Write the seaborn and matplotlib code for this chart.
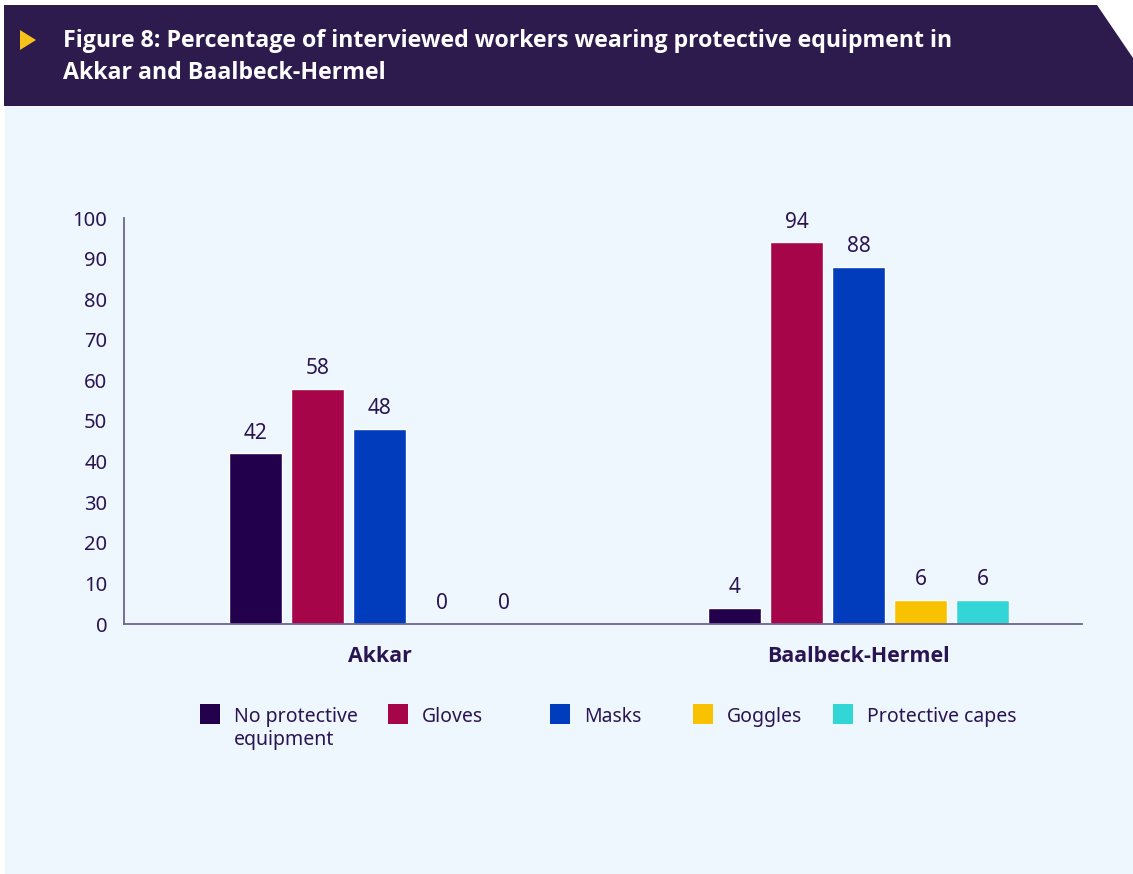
import matplotlib
matplotlib.use("Agg")
import matplotlib.pyplot as plt
from matplotlib.patches import Polygon, Rectangle
import pandas as pd
import seaborn as sns

# Data
regions = ["Akkar", "Baalbeck-Hermel"]
equipment = ["No protective\nequipment", "Gloves", "Masks", "Goggles", "Protective capes"]
akkar = [42, 58, 48, 0, 0]
baalbeck_hermel = [4, 94, 88, 6, 6]
colors = ["#23004c", "#a60549", "#003cbb", "#f9c200", "#33d6d6"]
yticks = [0, 10, 20, 30, 40, 50, 60, 70, 80, 90, 100]
title = ("Figure 8: Percentage of interviewed workers wearing protective equipment in\n"
         "Akkar and Baalbeck-Hermel")

df = pd.DataFrame({
    "region": [regions[0]] * len(equipment) + [regions[1]] * len(equipment),
    "equipment": equipment * 2,
    "value": akkar + baalbeck_hermel,
})

sns.set_style("white")
plt.rcParams["font.family"] = ["Noto Sans", "DejaVu Sans"]
BOLD = ["Open Sans", "DejaVu Sans"]

TEXT = "#2a1452"
W, H = 1133, 874
fig = plt.figure(figsize=(W / 100, H / 100), dpi=100)
fig.patch.set_facecolor("white")


def fx(px):
    return px / W


def fy(py):
    return 1 - py / H


# Light panel background
fig.patches.append(Rectangle((fx(5), 0), fx(W - 5), fy(106), transform=fig.transFigure,
                             facecolor="#eef7fd", edgecolor="none", zorder=-5))
# Header band with slanted corner
band = [(4, 5), (1097, 5), (1133, 58), (1133, 106), (4, 106)]
fig.patches.append(Polygon([(fx(x), fy(y)) for x, y in band], closed=True,
                           transform=fig.transFigure, facecolor="#2d1b4e",
                           edgecolor="none", zorder=-5))
# Yellow pointer
tri = [(20, 30), (36, 40), (20, 50)]
fig.patches.append(Polygon([(fx(x), fy(y)) for x, y in tri], closed=True,
                           transform=fig.transFigure, facecolor="#f7c21c",
                           edgecolor="none", zorder=1))
fig.text(fx(63), fy(57), title, color="white", fontsize=16.7, fontweight="bold",
         family=BOLD, ha="left", va="center", linespacing=1.42)

# Chart
ax = fig.add_axes([fx(124), fy(624), fx(1082 - 124), (624 - 218) / H])
ax.set_zorder(2)
ax.set_facecolor("none")
sns.barplot(data=df, x="region", y="value", hue="equipment", hue_order=equipment,
            palette=colors, saturation=1, width=0.647, gap=0.145, legend=False, ax=ax)

for cont in ax.containers:
    ax.bar_label(cont, labels=[f"{v:g}" for v in cont.datavalues], padding=7,
                 fontsize=15, color=TEXT)

ax.set_xlim(-0.534, 1.466)
ax.set_ylim(0, 100)
ax.set_yticks(yticks)
ax.set_xlabel("")
ax.set_ylabel("")
for s in ["top", "right"]:
    ax.spines[s].set_visible(False)
for s in ["left", "bottom"]:
    ax.spines[s].set_color("#6e6390")
    ax.spines[s].set_linewidth(1.3)
ax.tick_params(axis="both", length=0)
ax.tick_params(axis="y", pad=12, labelsize=14.5, labelcolor=TEXT)
ax.tick_params(axis="x", pad=16, labelsize=15.4, labelcolor=TEXT)
for lbl in ax.get_xticklabels():
    lbl.set_fontweight("bold")
    lbl.set_family(BOLD)

# Legend
legend_x = [200, 388, 550, 693, 833]
for x, lab, col in zip(legend_x, equipment, colors):
    fig.patches.append(Rectangle((fx(x), fy(724)), fx(20), 20 / H, transform=fig.transFigure,
                                 facecolor=col, edgecolor="none", zorder=2))
    fig.text(fx(x + 34), fy(707), lab, color=TEXT, fontsize=14, ha="left", va="top",
             linespacing=1.2)

fig.savefig("out.png", dpi=100)
